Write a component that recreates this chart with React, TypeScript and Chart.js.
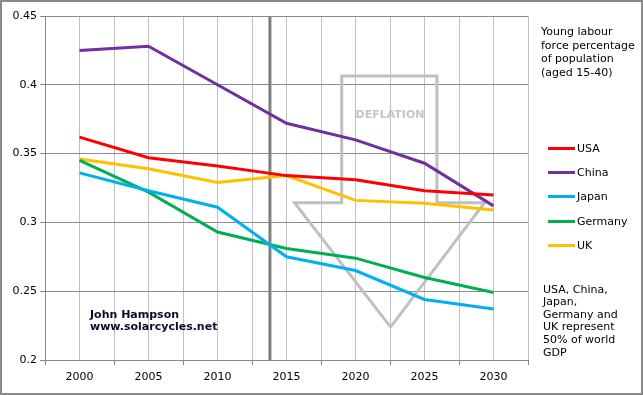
import React, { useEffect, useRef } from "react";
import { Chart, registerables } from "chart.js";

Chart.register(...registerables);

const years = [2000, 2005, 2010, 2015, 2020, 2025, 2030];
const usa = [0.362, 0.347, 0.341, 0.334, 0.331, 0.323, 0.32];
const china = [0.425, 0.428, 0.4, 0.372, 0.36, 0.343, 0.312];
const japan = [0.336, 0.323, 0.311, 0.275, 0.265, 0.244, 0.237];
const germany = [0.345, 0.322, 0.293, 0.281, 0.274, 0.26, 0.249];
const uk = [0.346, 0.339, 0.329, 0.334, 0.316, 0.314, 0.309];

const seriesNames = ["USA", "China", "Japan", "Germany", "UK"];
const seriesValues = [usa, china, japan, germany, uk];
const seriesColors = ["#ff0000", "#7030a0", "#00b0f0", "#00b050", "#ffc000"];

const yTicks = [0.2, 0.25, 0.3, 0.35, 0.4, 0.45];
const markerYear = 2013.8;

// Deflation arrow outline (data coordinates)
const arrowX = [2019, 2025.9, 2025.9, 2029.35, 2022.54, 2015.58, 2019];
const arrowY = [0.4064, 0.4064, 0.3143, 0.3143, 0.2239, 0.3143, 0.3143];

const FONT = "'DejaVu Sans', Verdana, sans-serif";

const overlayPlugin = {
  id: "overlay",
  beforeDatasetsDraw(chart: any) {
    const { ctx, scales } = chart;
    const xs = scales.x;
    const ys = scales.y;
    ctx.save();
    // arrow
    ctx.beginPath();
    arrowX.forEach((v, i) => {
      const px = xs.getPixelForValue(v);
      const py = ys.getPixelForValue(arrowY[i]);
      if (i === 0) ctx.moveTo(px, py);
      else ctx.lineTo(px, py);
    });
    ctx.closePath();
    ctx.strokeStyle = "#c0c0c0";
    ctx.lineWidth = 3;
    ctx.lineJoin = "miter";
    ctx.stroke();
    // marker line
    const mx = xs.getPixelForValue(markerYear);
    ctx.beginPath();
    ctx.moveTo(mx, chart.chartArea.top);
    ctx.lineTo(mx, chart.chartArea.bottom);
    ctx.strokeStyle = "#7f7f7f";
    ctx.lineWidth = 3;
    ctx.stroke();
    ctx.restore();
  },
  afterDraw(chart: any) {
    const { ctx } = chart;
    ctx.save();
    ctx.strokeStyle = "#8a8a8a";
    ctx.lineWidth = 2;
    ctx.strokeRect(1, 1, chart.width - 2, chart.height - 2);
    ctx.restore();
  },
};

export default function App() {
  const canvasRef = useRef<HTMLCanvasElement | null>(null);

  useEffect(() => {
    document.body.style.margin = "0";
    const canvas = canvasRef.current;
    if (!canvas) return;
    const chart = new Chart(canvas, {
      type: "line",
      data: {
        datasets: seriesNames.map((name, i) => ({
          label: name,
          data: years.map((yr, j) => ({ x: yr, y: seriesValues[i][j] })),
          borderColor: seriesColors[i],
          backgroundColor: seriesColors[i],
          borderWidth: 3,
          pointRadius: 0,
          tension: 0,
          fill: false,
        })),
      },
      options: {
        responsive: false,
        animation: false,
        events: [],
        layout: { padding: { left: 0, top: 16, right: 115, bottom: 0 } },
        plugins: {
          legend: { display: false },
          tooltip: { enabled: false },
        },
        scales: {
          x: {
            type: "linear",
            min: 1997.5,
            max: 2032.5,
            afterFit: (s: any) => {
              s.height = 35;
            },
            ticks: {
              stepSize: 2.5,
              autoSkip: false,
              maxRotation: 0,
              padding: 6,
              color: "#000",
              font: { family: FONT, size: 11 },
              callback: (v: any) => (Number(v) % 5 === 0 ? String(v) : ""),
            },
            grid: {
              color: "#c0c0c0",
              lineWidth: 1,
              tickLength: 5,
              tickColor: (c: any) =>
                c.tick && Number(c.tick.value) % 5 !== 0 ? "#888888" : "rgba(0,0,0,0)",
            },
            border: { color: "#888888", width: 1 },
          },
          y: {
            type: "linear",
            min: yTicks[0],
            max: yTicks[yTicks.length - 1],
            afterFit: (s: any) => {
              s.width = 45;
            },
            ticks: {
              stepSize: 0.05,
              padding: 3,
              color: "#000",
              font: { family: FONT, size: 11 },
              callback: (v: any) => String(parseFloat(Number(v).toFixed(2))),
            },
            grid: {
              color: "#8c8c8c",
              lineWidth: 1,
              tickLength: 5,
              tickColor: "#888888",
            },
            border: { color: "#888888", width: 1 },
          },
        },
      },
      plugins: [overlayPlugin],
    } as any);
    return () => chart.destroy();
  }, []);

  const textBase: React.CSSProperties = {
    position: "absolute",
    fontFamily: FONT,
    fontSize: 11,
    color: "#000",
    whiteSpace: "nowrap",
  };

  const legendRows = [148, 172, 196.5, 221, 245];

  return (
    <div style={{ position: "relative", width: 643, height: 395 }}>
      <canvas ref={canvasRef} width={643} height={395} style={{ display: "block" }} />
      <div style={{ ...textBase, left: 541, top: 25, lineHeight: "13.6px" }}>
        Young labour
        <br />
        force percentage
        <br />
        of population
        <br />
        (aged 15-40)
      </div>
      {seriesNames.map((name, i) => (
        <div
          key={name}
          style={{
            position: "absolute",
            left: 548,
            top: legendRows[i] - 7,
            height: 14,
            display: "flex",
            alignItems: "center",
          }}
        >
          <div style={{ width: 27, height: 3, background: seriesColors[i] }} />
          <span style={{ ...textBase, position: "static", marginLeft: 2 }}>{name}</span>
        </div>
      ))}
      <div style={{ ...textBase, left: 543, top: 283.7, lineHeight: "12.6px" }}>
        USA, China,
        <br />
        Japan,
        <br />
        Germany and
        <br />
        UK represent
        <br />
        50% of world
        <br />
        GDP
      </div>
      <div
        style={{
          ...textBase,
          left: 90,
          top: 309,
          lineHeight: "12px",
          fontWeight: "bold",
          color: "#0a0a30",
        }}
      >
        John Hampson
        <br />
        www.solarcycles.net
      </div>
      <div
        style={{
          ...textBase,
          left: 390,
          top: 108,
          lineHeight: "14px",
          fontWeight: "bold",
          color: "#c4c4c4",
          transform: "translateX(-50%)",
        }}
      >
        DEFLATION
      </div>
    </div>
  );
}
